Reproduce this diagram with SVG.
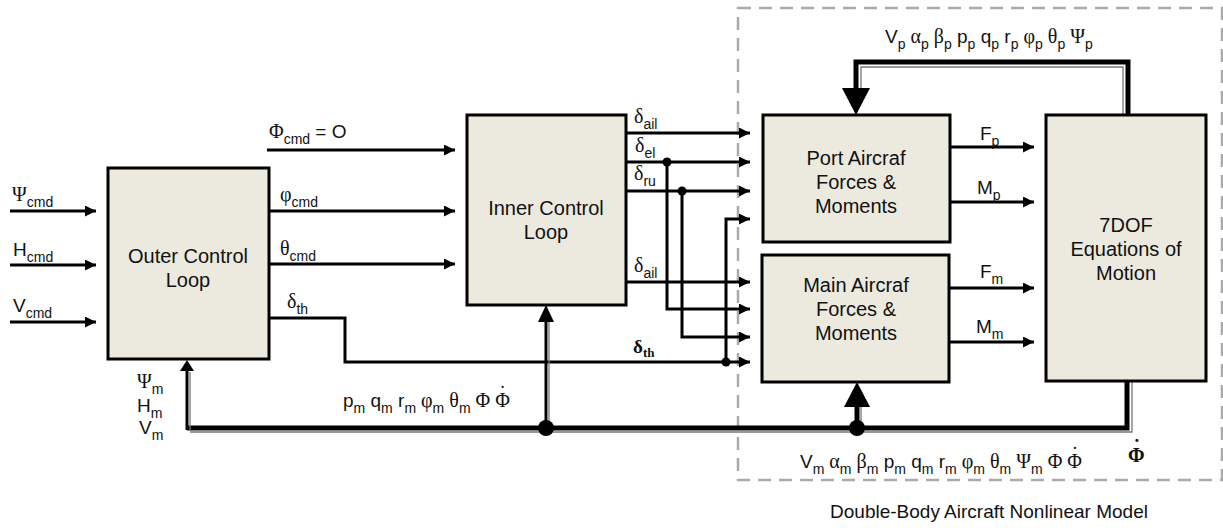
<svg xmlns="http://www.w3.org/2000/svg" width="1223" height="528" viewBox="0 0 1223 528">
<style>
.box{fill:#ece9df;stroke:#000;stroke-width:3}
.txt{font-family:"Liberation Sans",Arial,sans-serif;font-size:20px;fill:#111;text-anchor:middle}
.lbl{font-family:"Liberation Sans",Arial,sans-serif;font-size:19px;fill:#111}
.g{font-family:"Liberation Serif","Times New Roman",serif;font-size:20px}
.sub{font-size:14px}
.sig{fill:none;stroke:#000;stroke-width:3}
.bus{fill:none;stroke:#000;stroke-width:5}
.thin{fill:none;stroke:#777;stroke-width:1.3}
.dash{fill:none;stroke:#aaa;stroke-width:2.5;stroke-dasharray:13 8}
.bold{font-family:"Liberation Serif","Times New Roman",serif;font-weight:bold;fill:#111}
</style>
<defs>
<marker id="ah" markerUnits="userSpaceOnUse" markerWidth="12" markerHeight="11" refX="11" refY="5.5" orient="auto">
<path d="M0,0 L11,5.5 L0,11 z" fill="#000"/>
</marker>
</defs>

<rect class="dash" x="738" y="8" width="484" height="472"/>

<g id="connectors">
<path class="sig" d="M10,211 H96" marker-end="url(#ah)"/>
<path class="sig" d="M10,265 H96" marker-end="url(#ah)"/>
<path class="sig" d="M10,322 H96" marker-end="url(#ah)"/>
<path class="sig" d="M267,150 H455" marker-end="url(#ah)"/>
<path class="sig" d="M269,211 H455" marker-end="url(#ah)"/>
<path class="sig" d="M269,264 H455" marker-end="url(#ah)"/>
<path class="sig" d="M269,318 H345 V362 H750" marker-end="url(#ah)"/>
<path class="sig" d="M626,133 H750" marker-end="url(#ah)"/>
<path class="sig" d="M626,162 H750" marker-end="url(#ah)"/>
<path class="sig" d="M626,191 H750" marker-end="url(#ah)"/>
<path class="sig" d="M726,362 V219 H750" marker-end="url(#ah)"/>
<path class="sig" d="M626,282 H750" marker-end="url(#ah)"/>
<path class="sig" d="M667,162 V309 H750" marker-end="url(#ah)"/>
<path class="sig" d="M682,191 V337 H750" marker-end="url(#ah)"/>
<circle cx="667" cy="162" r="4.5"/>
<circle cx="682" cy="191" r="4.5"/>
<circle cx="726" cy="362" r="4.5"/>
<path class="sig" d="M950,147 H1034" marker-end="url(#ah)"/>
<path class="sig" d="M950,202 H1034" marker-end="url(#ah)"/>
<path class="sig" d="M950,288 H1034" marker-end="url(#ah)"/>
<path class="sig" d="M950,342 H1034" marker-end="url(#ah)"/>
<path class="thin" d="M1123,115 V67 H861 V90"/>
<path class="bus" d="M1128,115 V62 H856 V90"/>
<path d="M842,88 L870,88 L856,115 z" fill="#000"/>
<path class="thin" d="M1132,382 V432 H190"/>
<path class="bus" d="M1127,382 V428 H187"/>
<path class="thin" d="M190,430 V372"/>
<path class="sig" d="M187,430 V371"/>
<path d="M180,371 L194,371 L187,360 z" fill="#000"/>
<path class="thin" d="M549,428 V322"/>
<path class="sig" d="M546,428 V320"/>
<path d="M538,322 L554,322 L546,305 z" fill="#000"/>
<path class="thin" d="M861,428 V407"/>
<path class="bus" d="M857,428 V405"/>
<path d="M844,407 L870,407 L857,382 z" fill="#000"/>
<circle cx="546" cy="428" r="8"/>
<circle cx="857" cy="428" r="8"/>
</g>

<g id="outer">
<rect class="box" x="108" y="168" width="161" height="191"/>
<text class="txt" x="188" y="263">Outer Control</text>
<text class="txt" x="188" y="287">Loop</text>
</g>
<g id="inner">
<rect class="box" x="467" y="115" width="159" height="190"/>
<text class="txt" x="546" y="215">Inner Control</text>
<text class="txt" x="546" y="239">Loop</text>
</g>
<g id="port">
<rect class="box" x="763" y="115" width="187" height="127"/>
<text class="txt" x="856" y="165">Port Aircraf</text>
<text class="txt" x="856" y="189">Forces &amp;</text>
<text class="txt" x="856" y="213">Moments</text>
</g>
<g id="main">
<rect class="box" x="762" y="255" width="187" height="127"/>
<text class="txt" x="856" y="292">Main Aircraf</text>
<text class="txt" x="856" y="316">Forces &amp;</text>
<text class="txt" x="856" y="340">Moments</text>
</g>
<g id="eom">
<rect class="box" x="1046" y="115" width="160" height="266"/>
<text class="txt" x="1126" y="232">7DOF</text>
<text class="txt" x="1126" y="256">Equations of</text>
<text class="txt" x="1126" y="280">Motion</text>
</g>

<g id="labels">
<text class="lbl" x="12" y="201"><tspan class="g">Ψ</tspan><tspan class="sub" dy="6">cmd</tspan></text>
<text class="lbl" x="13" y="256">H<tspan class="sub" dy="6">cmd</tspan></text>
<text class="lbl" x="13" y="312">V<tspan class="sub" dy="6">cmd</tspan></text>
<text class="lbl" x="269" y="138"><tspan class="g">Φ</tspan><tspan class="sub" dy="6">cmd</tspan><tspan dy="-6"> = O</tspan></text>
<text class="lbl" x="280" y="201"><tspan class="g">φ</tspan><tspan class="sub" dy="6">cmd</tspan></text>
<text class="lbl" x="280" y="255"><tspan class="g">θ</tspan><tspan class="sub" dy="6">cmd</tspan></text>
<text class="lbl" x="287" y="308"><tspan class="g">δ</tspan><tspan class="sub" dy="6">th</tspan></text>
<text class="lbl" x="634" y="123"><tspan class="g">δ</tspan><tspan class="sub" dy="6">ail</tspan></text>
<text class="lbl" x="635" y="152"><tspan class="g">δ</tspan><tspan class="sub" dy="6">el</tspan></text>
<text class="lbl" x="634" y="180"><tspan class="g">δ</tspan><tspan class="sub" dy="6">ru</tspan></text>
<text class="lbl" x="634" y="272"><tspan class="g">δ</tspan><tspan class="sub" dy="6">ail</tspan></text>
<text class="bold" x="633" y="353" font-size="19">δ<tspan font-size="13" dy="4">th</tspan></text>
<text class="lbl" x="980" y="140">F<tspan class="sub" dy="6">p</tspan></text>
<text class="lbl" x="977" y="194">M<tspan class="sub" dy="6">p</tspan></text>
<text class="lbl" x="980" y="278">F<tspan class="sub" dy="6">m</tspan></text>
<text class="lbl" x="976" y="333">M<tspan class="sub" dy="6">m</tspan></text>
<text class="lbl" x="885" y="43">V<tspan class="sub" dy="6">p</tspan><tspan class="g" dy="-6"> α</tspan><tspan class="sub" dy="6">p</tspan><tspan class="g" dy="-6"> β</tspan><tspan class="sub" dy="6">p</tspan><tspan dy="-6"> p</tspan><tspan class="sub" dy="6">p</tspan><tspan dy="-6"> q</tspan><tspan class="sub" dy="6">p</tspan><tspan dy="-6"> r</tspan><tspan class="sub" dy="6">p</tspan><tspan class="g" dy="-6"> φ</tspan><tspan class="sub" dy="6">p</tspan><tspan class="g" dy="-6"> θ</tspan><tspan class="sub" dy="6">p</tspan><tspan class="g" dy="-6"> Ψ</tspan><tspan class="sub" dy="6">p</tspan></text>
<text class="lbl" x="137" y="388"><tspan class="g">Ψ</tspan><tspan class="sub" dy="6">m</tspan></text>
<text class="lbl" x="137" y="412">H<tspan class="sub" dy="6">m</tspan></text>
<text class="lbl" x="139" y="434">V<tspan class="sub" dy="6">m</tspan></text>
<text class="lbl" x="343" y="407">p<tspan class="sub" dy="6">m</tspan><tspan dy="-6"> q</tspan><tspan class="sub" dy="6">m</tspan><tspan dy="-6"> r</tspan><tspan class="sub" dy="6">m</tspan><tspan class="g" dy="-6"> φ</tspan><tspan class="sub" dy="6">m</tspan><tspan class="g" dy="-6"> θ</tspan><tspan class="sub" dy="6">m</tspan><tspan class="g" dy="-6"> Φ Φ</tspan><tspan class="g" dx="-10.5" dy="-7">˙</tspan></text>
<text class="lbl" x="800" y="468">V<tspan class="sub" dy="6">m</tspan><tspan class="g" dy="-6"> α</tspan><tspan class="sub" dy="6">m</tspan><tspan class="g" dy="-6"> β</tspan><tspan class="sub" dy="6">m</tspan><tspan dy="-6"> p</tspan><tspan class="sub" dy="6">m</tspan><tspan dy="-6"> q</tspan><tspan class="sub" dy="6">m</tspan><tspan dy="-6"> r</tspan><tspan class="sub" dy="6">m</tspan><tspan class="g" dy="-6"> φ</tspan><tspan class="sub" dy="6">m</tspan><tspan class="g" dy="-6"> θ</tspan><tspan class="sub" dy="6">m</tspan><tspan class="g" dy="-6"> Ψ</tspan><tspan class="sub" dy="6">m</tspan><tspan class="g" dy="-6"> Φ Φ</tspan><tspan class="g" dx="-10.5" dy="-7">˙</tspan></text>
<text class="bold" x="1128" y="462" font-size="20">Φ<tspan dx="-11" dy="-8">˙</tspan></text>
<text class="lbl" x="989" y="518" text-anchor="middle" font-size="18.5">Double-Body Aircraft Nonlinear Model</text>
</g>
</svg>
